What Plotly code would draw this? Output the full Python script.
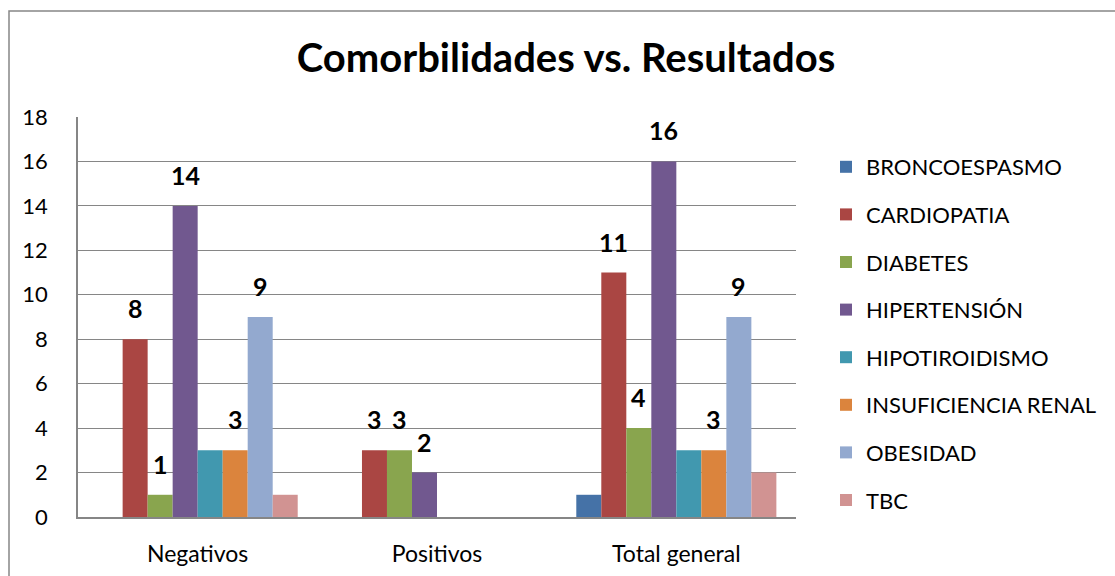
import plotly.graph_objects as go

categories = ["Negativos", "Positivos", "Total general"]
series_names = ["BRONCOESPASMO", "CARDIOPATIA", "DIABETES", "HIPERTENSIÓN",
                "HIPOTIROIDISMO", "INSUFICIENCIA RENAL", "OBESIDAD", "TBC"]
broncoespasmo = [None, None, 1]
cardiopatia = [8, 3, 11]
diabetes = [1, 3, 4]
hipertension = [14, 2, 16]
hipotiroidismo = [3, None, 3]
insuficiencia_renal = [3, None, 3]
obesidad = [9, None, 9]
tbc = [1, None, 2]
values = [broncoespasmo, cardiopatia, diabetes, hipertension,
          hipotiroidismo, insuficiencia_renal, obesidad, tbc]
labeled = [False, True, True, True, False, True, True, False]
colors = ["#4572A7", "#AA4643", "#89A54E", "#71588F",
          "#4198AF", "#DB843D", "#93A9CF", "#D19392"]

FONT = "Lato"
W, H = 1115, 576
ML, MR, MT, MB = 78, 319, 117, 59
BARGAP = 0.164

fig = go.Figure()
for i, (name, vals) in enumerate(zip(series_names, values)):
    fig.add_trace(go.Bar(
        name=name, x=categories, y=vals,
        marker=dict(color=colors[i], line=dict(width=0)),
        legendgroup=name,
    ))

plot_w = W - ML - MR
bar_w = plot_w / len(categories) * (1 - BARGAP) / len(series_names)
annotations = []
for i, vals in enumerate(values):
    if not labeled[i]:
        continue
    for c, v in zip(categories, vals):
        if v is None:
            continue
        annotations.append(dict(
            x=c, y=v, xref="x", yref="y", text=f"<b>{v}</b>",
            showarrow=False, yanchor="bottom", xanchor="center",
            xshift=(i - (len(series_names) - 1) / 2) * bar_w, yshift=14,
            font=dict(family=FONT, size=25, color="#000000"),
        ))

fig.update_layout(
    width=W, height=H,
    margin=dict(l=ML, r=MR, t=MT, b=MB, autoexpand=False),
    paper_bgcolor="white", plot_bgcolor="white",
    barmode="group", bargap=BARGAP, bargroupgap=0,
    title=dict(text="<b>Comorbilidades vs. Resultados</b>",
               font=dict(family=FONT, size=40, color="#000000"),
               x=566 / W, xref="container", xanchor="center",
               y=1 - 58 / H, yref="container", yanchor="middle"),
    font=dict(family=FONT, size=22, color="#000000"),
    legend=dict(x=(826 - ML) / plot_w, xanchor="left",
                y=1 - (146 - MT) / (H - MT - MB), yanchor="top",
                font=dict(family=FONT, size=22, color="#000000"),
                tracegroupgap=16, itemwidth=30, bgcolor="rgba(0,0,0,0)"),
    annotations=annotations,
    shapes=[dict(type="rect", xref="paper", yref="paper",
                 xsizemode="pixel", ysizemode="pixel", xanchor=0, yanchor=1,
                 x0=9 - ML, x1=W + 50, y0=-(H), y1=MT - 11,
                 line=dict(color="#868686", width=1.5), fillcolor="rgba(0,0,0,0)",
                 layer="below")],
)
fig.update_xaxes(showgrid=False, showline=True, linecolor="#868686", linewidth=1.5,
                 ticks="", ticklabelstandoff=16,
                 tickfont=dict(family=FONT, size=23, color="#000000"))
fig.update_yaxes(range=[0, 18], dtick=2, showgrid=True, gridcolor="#868686", gridwidth=1.3,
                 showline=True, linecolor="#868686", linewidth=1.5, zeroline=False,
                 ticks="", ticklabelstandoff=24,
                 tickfont=dict(family=FONT, size=22, color="#000000"))

fig.write_html("out.html", config={"displayModeBar": False},
               post_script="document.body.style.margin='0';")
